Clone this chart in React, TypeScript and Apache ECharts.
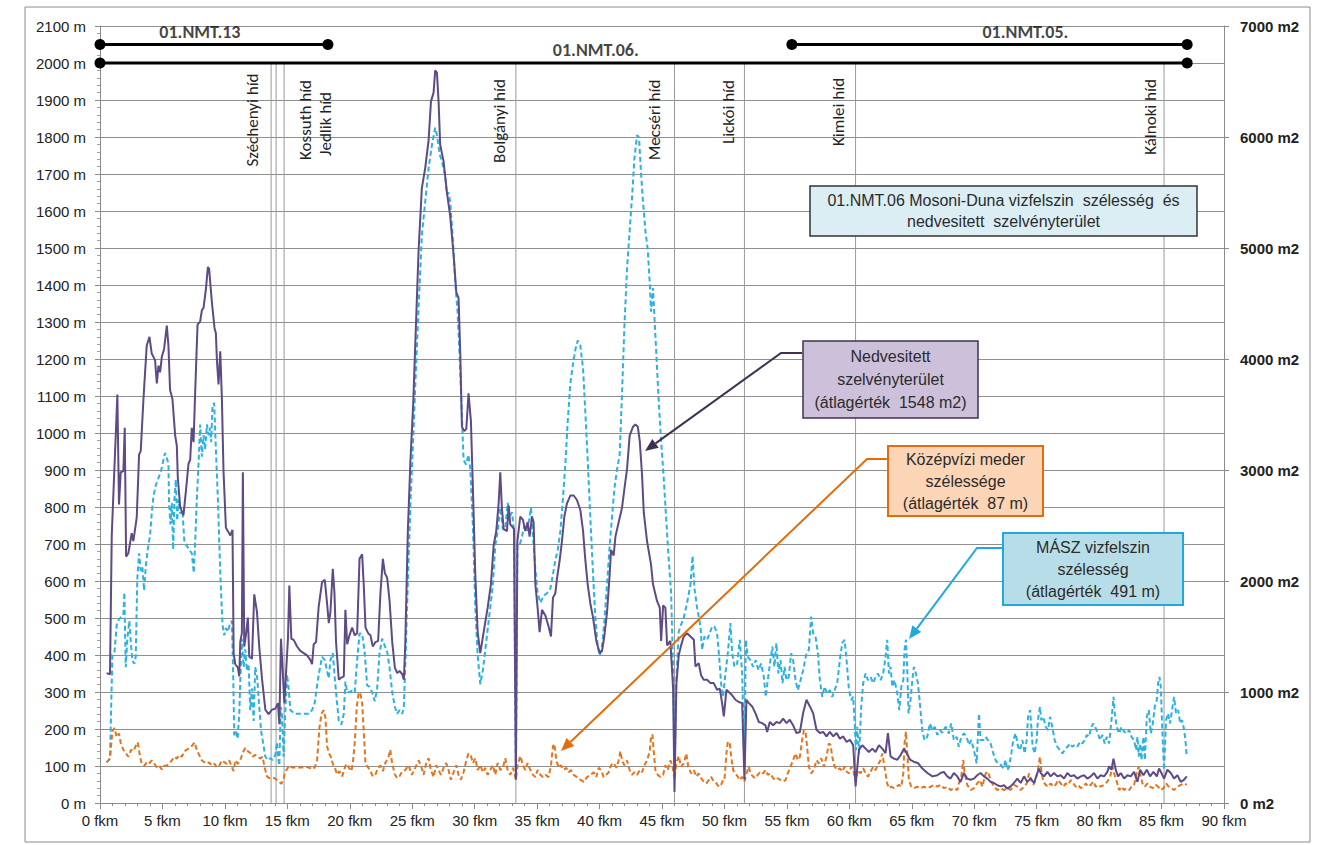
import React, { useEffect, useRef } from "react";
import * as echarts from "echarts";

// MÁSZ vízfelszín szélesség [fkm, m]
const maszWidth: [number, number][] = [
  [0.53,110],[0.8,120],[0.99,400],[1.15,405],[1.34,482],[1.52,497],[1.68,502],[1.87,507],[1.95,569],[2.06,367],[2.19,444],[2.35,492],[2.49,424],[2.59,386],[2.75,376],[2.86,395],[2.99,608],[3.13,675],[3.26,627],[3.4,637],[3.53,574],[3.66,637],[3.82,685],[4.01,724],[4.14,782],[4.28,830],[4.47,859],[4.68,878],[4.89,898],[5.08,927],[5.21,946],[5.35,932],[5.48,917],[5.53,811],[5.64,753],[5.75,811],[5.86,685],[5.96,820],[6.07,874],[6.18,763],[6.28,820],[6.42,782],[6.6,791],[6.76,704],[6.95,695],[7.14,685],[7.35,675],[7.51,622],[7.62,704],[7.75,820],[7.89,917],[8.02,1023],[8.16,936],[8.29,994],[8.42,955],[8.56,1023],[8.69,994],[8.82,1014],[8.9,975],[9.01,1076],[9.14,1081],[9.28,955],[9.44,820],[9.55,704],[9.68,579],[9.81,482],[9.95,453],[10.08,473],[10.24,463],[10.43,487],[10.56,492],[10.67,337],[10.75,183],[10.88,193],[11.02,174],[11.15,241],[11.23,328],[11.36,444],[11.5,367],[11.63,415],[11.76,357],[11.9,376],[12.03,251],[12.17,309],[12.3,222],[12.43,367],[12.59,337],[12.75,260],[12.91,193],[13.1,154],[13.24,125],[13.45,116],[13.64,121],[13.82,116],[14.04,130],[14.17,164],[14.25,125],[14.36,101],[14.47,260],[14.57,241],[14.7,125],[14.84,251],[14.97,347],[15.11,309],[15.24,251],[15.43,246],[15.64,241],[15.91,241],[16.18,241],[16.44,241],[16.71,241],[16.98,251],[17.19,270],[17.38,318],[17.57,357],[17.78,395],[18.0,386],[18.18,357],[18.32,337],[18.45,386],[18.64,405],[18.8,337],[18.98,270],[19.12,222],[19.33,212],[19.52,241],[19.65,328],[19.79,299],[19.97,299],[20.19,304],[20.4,299],[20.59,386],[20.78,458],[20.99,458],[21.2,405],[21.39,318],[21.58,314],[21.79,299],[22.0,275],[22.19,309],[22.38,405],[22.59,444],[22.81,424],[22.99,410],[23.18,367],[23.4,299],[23.61,260],[23.8,241],[23.98,251],[24.2,241],[24.33,260],[24.47,400],[24.65,600],[24.87,820],[25.05,960],[25.27,1150],[25.51,1340],[25.77,1534],[26.04,1625],[26.31,1715],[26.58,1779],[26.84,1825],[26.98,1805],[27.19,1754],[27.38,1734],[27.64,1695],[27.78,1644],[27.91,1650],[28.04,1625],[28.26,1521],[28.45,1405],[28.63,1328],[28.79,1212],[28.98,1044],[29.11,928],[29.3,915],[29.51,941],[29.65,902],[29.86,747],[30.05,528],[30.24,399],[30.45,321],[30.66,360],[30.93,437],[31.2,515],[31.46,592],[31.65,696],[31.84,734],[32.05,798],[32.26,740],[32.45,740],[32.64,811],[32.8,773],[32.99,786],[33.15,734],[33.3,70],[33.42,696],[33.6,696],[33.79,721],[33.97,747],[34.19,734],[34.4,773],[34.51,798],[34.67,721],[34.86,631],[35.04,567],[35.26,541],[35.52,560],[35.79,567],[36.06,579],[36.27,618],[36.46,657],[36.65,683],[36.86,734],[37.07,825],[37.26,915],[37.45,1031],[37.66,1134],[37.87,1186],[38.06,1225],[38.25,1250],[38.46,1237],[38.68,1173],[38.86,1057],[39.05,928],[39.26,773],[39.48,618],[39.66,502],[39.85,425],[40.01,399],[40.2,425],[40.38,489],[40.6,592],[40.81,696],[41.0,773],[41.19,850],[41.4,902],[41.61,941],[41.8,1108],[41.99,1289],[42.2,1444],[42.41,1547],[42.6,1637],[42.79,1741],[43.0,1805],[43.16,1799],[43.32,1702],[43.48,1625],[43.67,1547],[43.86,1495],[44.02,1405],[44.12,1328],[44.28,1392],[44.39,1315],[44.55,1212],[44.74,1083],[44.93,979],[45.14,876],[45.35,760],[45.54,657],[45.73,567],[45.89,360],[46.0,76],[46.15,334],[46.34,463],[46.5,480],[46.74,500],[47.0,540],[47.28,590],[47.45,668],[47.6,580],[47.8,530],[48.08,477],[48.21,414],[48.4,450],[48.61,441],[48.82,459],[49.01,477],[49.2,477],[49.41,459],[49.55,405],[49.73,324],[49.89,287],[50.08,350],[50.27,405],[50.48,486],[50.62,405],[50.8,368],[51.02,377],[51.23,441],[51.42,350],[51.6,98],[51.71,441],[51.87,395],[52.08,386],[52.3,368],[52.51,386],[52.72,359],[52.94,377],[53.15,341],[53.31,287],[53.47,332],[53.68,386],[53.84,423],[54.0,368],[54.16,432],[54.32,350],[54.49,386],[54.65,324],[54.81,368],[54.97,332],[55.15,341],[55.34,405],[55.5,386],[55.69,332],[55.88,305],[56.09,332],[56.3,359],[56.57,405],[56.76,414],[56.94,504],[57.1,459],[57.29,450],[57.48,405],[57.64,332],[57.83,287],[58.01,314],[58.23,296],[58.44,305],[58.63,287],[58.82,305],[59.03,324],[59.24,386],[59.43,432],[59.62,441],[59.78,386],[59.97,305],[60.15,278],[60.31,287],[60.42,224],[60.53,143],[60.63,206],[60.79,134],[60.95,260],[61.11,324],[61.3,350],[61.49,332],[61.7,341],[61.91,324],[62.1,341],[62.29,350],[62.5,332],[62.71,350],[62.9,395],[63.03,441],[63.17,350],[63.3,368],[63.44,314],[63.62,332],[63.84,296],[64.0,251],[64.16,314],[64.32,332],[64.42,414],[64.53,441],[64.64,359],[64.74,242],[64.9,278],[65.04,332],[65.17,368],[65.33,350],[65.49,324],[65.65,269],[65.84,197],[66.02,170],[66.24,179],[66.45,215],[66.64,197],[66.83,206],[67.05,184],[67.26,197],[67.45,190],[67.71,206],[67.97,188],[68.16,215],[68.37,170],[68.59,179],[68.77,152],[68.96,179],[69.17,188],[69.39,179],[69.58,157],[69.76,170],[69.98,143],[70.19,107],[70.38,242],[70.51,170],[70.73,170],[70.91,179],[71.1,170],[71.31,161],[71.53,134],[71.71,116],[71.9,107],[72.12,103],[72.33,94],[72.52,116],[72.65,89],[72.79,98],[72.97,134],[73.13,170],[73.32,188],[73.51,152],[73.67,143],[73.86,170],[74.04,134],[74.2,170],[74.31,233],[74.47,251],[74.57,206],[74.68,152],[74.84,134],[75.0,170],[75.1,224],[75.26,260],[75.37,224],[75.53,233],[75.72,206],[75.91,197],[76.07,233],[76.25,206],[76.44,170],[76.66,152],[76.87,143],[77.06,134],[77.24,143],[77.46,152],[77.67,161],[77.85,152],[78.04,157],[78.26,152],[78.47,166],[78.66,161],[78.85,170],[79.01,184],[79.19,179],[79.38,206],[79.54,215],[79.73,202],[79.91,188],[80.08,170],[80.26,184],[80.45,161],[80.61,179],[80.8,161],[80.99,224],[81.15,287],[81.25,242],[81.41,206],[81.6,188],[81.79,206],[82.0,193],[82.21,188],[82.4,197],[82.59,179],[82.8,170],[82.96,143],[83.07,179],[83.17,125],[83.28,161],[83.39,116],[83.55,179],[83.66,116],[83.82,233],[83.98,251],[84.14,188],[84.3,215],[84.46,260],[84.62,278],[84.72,323],[84.83,341],[84.94,314],[85.07,188],[85.2,89],[85.36,224],[85.52,242],[85.68,215],[85.84,251],[86.0,287],[86.16,242],[86.33,251],[86.49,215],[86.65,224],[86.81,197],[86.91,170],[87.02,125]
];

// Középvízi meder szélessége [fkm, m]
const kozepviziWidth: [number, number][] = [
  [0.53,110],[0.8,120],[0.99,193],[1.15,203],[1.34,178],[1.52,188],[1.68,159],[1.87,144],[2.06,135],[2.27,125],[2.49,144],[2.67,140],[2.86,154],[3.02,164],[3.21,125],[3.34,106],[3.56,101],[3.74,110],[3.93,106],[4.14,115],[4.36,106],[4.55,96],[4.73,101],[4.95,91],[5.16,101],[5.35,101],[5.53,106],[5.75,115],[5.96,125],[6.15,120],[6.34,130],[6.55,125],[6.76,140],[6.95,144],[7.14,149],[7.35,154],[7.57,164],[7.75,144],[7.94,130],[8.16,115],[8.37,110],[8.56,106],[8.74,110],[8.96,101],[9.17,106],[9.36,96],[9.55,101],[9.76,115],[9.97,110],[10.16,106],[10.35,115],[10.51,101],[10.7,86],[10.83,115],[11.04,106],[11.23,115],[11.42,135],[11.63,149],[11.84,140],[12.03,135],[12.22,125],[12.43,130],[12.65,125],[12.83,120],[13.02,125],[13.18,96],[13.37,72],[13.56,67],[13.77,69],[13.98,67],[14.17,62],[14.36,57],[14.52,52],[14.71,67],[14.84,86],[14.97,91],[15.16,101],[15.37,96],[15.64,96],[15.91,96],[16.18,96],[16.44,98],[16.71,96],[16.98,91],[17.19,96],[17.38,115],[17.57,203],[17.73,241],[17.91,251],[18.05,231],[18.18,154],[18.32,135],[18.48,125],[18.64,106],[18.8,96],[18.98,77],[19.17,86],[19.39,72],[19.52,86],[19.71,106],[19.92,96],[20.13,86],[20.24,106],[20.4,164],[20.56,260],[20.72,299],[20.86,294],[20.99,270],[21.12,193],[21.26,106],[21.47,96],[21.66,86],[21.84,72],[22.06,77],[22.27,96],[22.46,101],[22.65,86],[22.86,110],[23.07,120],[23.24,144],[23.4,106],[23.61,77],[23.8,67],[23.98,72],[24.2,86],[24.44,89],[24.71,102],[24.97,76],[25.24,95],[25.51,115],[25.69,102],[25.91,76],[26.12,108],[26.31,121],[26.5,89],[26.71,70],[26.92,102],[27.11,89],[27.3,76],[27.51,95],[27.72,108],[27.91,89],[28.1,63],[28.31,83],[28.53,102],[28.71,76],[28.9,63],[29.11,83],[29.33,115],[29.51,134],[29.7,127],[29.86,108],[30.05,121],[30.24,89],[30.45,102],[30.66,83],[30.85,95],[31.04,76],[31.25,89],[31.46,102],[31.65,76],[31.84,108],[32.05,89],[32.26,95],[32.45,121],[32.64,89],[32.85,76],[33.07,95],[33.3,63],[33.44,102],[33.65,127],[33.87,102],[34.05,89],[34.24,108],[34.46,89],[34.67,76],[34.86,70],[35.04,89],[35.26,76],[35.47,70],[35.68,76],[35.92,70],[36.11,102],[36.27,153],[36.38,160],[36.54,115],[36.73,95],[36.91,102],[37.13,89],[37.34,95],[37.53,83],[37.71,89],[37.93,76],[38.19,70],[38.46,63],[38.73,57],[39.0,70],[39.26,76],[39.53,83],[39.74,70],[39.93,95],[40.12,89],[40.33,70],[40.54,76],[40.73,83],[40.92,102],[41.13,108],[41.35,95],[41.53,115],[41.67,140],[41.8,115],[41.99,102],[42.2,115],[42.41,89],[42.6,76],[42.79,83],[43.0,76],[43.22,89],[43.4,83],[43.59,102],[43.8,115],[44.02,140],[44.12,179],[44.23,185],[44.34,140],[44.47,89],[44.66,76],[44.87,70],[45.09,76],[45.27,102],[45.46,89],[45.67,115],[45.83,102],[46.0,63],[46.15,108],[46.34,127],[46.53,98],[46.74,107],[46.95,134],[47.1,98],[47.33,80],[47.55,89],[47.76,71],[47.94,80],[48.13,67],[48.34,58],[48.55,53],[48.74,62],[48.93,71],[49.14,58],[49.36,53],[49.55,44],[49.73,49],[49.89,62],[50.0,62],[50.16,134],[50.27,166],[50.43,161],[50.54,125],[50.7,89],[50.88,80],[51.07,71],[51.23,62],[51.42,71],[51.6,58],[51.76,80],[51.95,98],[52.08,80],[52.3,71],[52.48,67],[52.67,76],[52.88,85],[53.1,80],[53.28,89],[53.47,76],[53.68,80],[53.9,67],[54.08,62],[54.27,67],[54.49,62],[54.7,58],[54.89,62],[55.07,80],[55.29,98],[55.5,116],[55.69,134],[55.88,116],[56.04,125],[56.22,170],[56.36,197],[56.49,193],[56.62,152],[56.76,98],[56.94,80],[57.15,89],[57.37,116],[57.56,107],[57.75,121],[57.96,98],[58.17,125],[58.36,161],[58.5,157],[58.63,125],[58.82,98],[59.03,89],[59.24,94],[59.43,85],[59.62,98],[59.78,85],[59.97,80],[60.15,98],[60.31,89],[60.5,58],[60.69,89],[60.9,80],[61.11,94],[61.3,80],[61.49,71],[61.7,85],[61.91,98],[62.1,89],[62.29,103],[62.5,116],[62.64,134],[62.77,107],[62.9,80],[63.03,53],[63.17,40],[63.36,44],[63.57,40],[63.78,44],[63.97,49],[64.16,44],[64.32,80],[64.42,161],[64.53,193],[64.64,134],[64.77,62],[64.96,44],[65.17,40],[65.44,44],[65.71,40],[65.97,44],[66.24,40],[66.51,44],[66.77,49],[67.05,44],[67.31,49],[67.58,40],[67.85,44],[68.11,35],[68.38,40],[68.65,35],[68.77,53],[68.96,71],[69.12,116],[69.23,80],[69.44,49],[69.71,35],[69.98,40],[70.24,53],[70.46,62],[70.65,44],[70.91,80],[71.1,85],[71.31,62],[71.58,44],[71.85,35],[72.12,40],[72.38,35],[72.65,40],[72.92,35],[73.18,49],[73.45,44],[73.72,35],[73.99,44],[74.2,53],[74.39,80],[74.52,67],[74.73,49],[74.92,62],[75.1,89],[75.26,125],[75.37,89],[75.53,58],[75.72,49],[75.91,44],[76.12,53],[76.33,44],[76.52,49],[76.71,62],[76.92,53],[77.14,44],[77.32,53],[77.51,49],[77.73,62],[77.94,53],[78.12,44],[78.31,49],[78.53,40],[78.74,44],[78.93,53],[79.11,44],[79.33,49],[79.54,58],[79.73,44],[79.91,49],[80.13,44],[80.4,49],[80.66,58],[80.88,71],[81.07,98],[81.2,80],[81.41,58],[81.6,35],[81.79,44],[82.0,35],[82.21,40],[82.4,35],[82.59,44],[82.8,49],[83.07,89],[83.17,98],[83.28,80],[83.47,53],[83.66,44],[83.87,53],[84.08,44],[84.3,40],[84.54,49],[84.72,44],[84.94,35],[85.15,40],[85.36,53],[85.57,44],[85.79,40],[86.0,35],[86.27,44],[86.54,49],[86.81,53],[87.02,49]
];

// Nedvesített szelvényterület [fkm, m2]
const wettedArea: [number, number][] = [
  [0.53,1170],[0.8,1160],[0.94,2410],[1.39,3680],[1.52,2690],[1.66,2980],[1.87,2990],[1.98,3380],[2.09,2220],[2.27,2250],[2.54,2430],[2.67,2360],[2.94,2570],[3.13,3140],[3.26,3170],[3.48,3640],[3.74,4120],[3.96,4200],[4.14,4050],[4.41,3990],[4.55,3780],[4.68,3940],[4.81,3880],[4.95,4020],[5.13,4090],[5.35,4300],[5.48,4120],[5.61,3720],[5.8,3640],[6.02,3310],[6.15,3220],[6.23,2930],[6.42,2670],[6.68,2590],[6.87,2800],[7.09,3060],[7.22,3090],[7.35,3380],[7.49,3250],[7.62,3700],[7.81,4310],[8.02,4340],[8.16,4440],[8.29,4460],[8.48,4630],[8.64,4830],[8.74,4810],[8.96,4510],[9.17,4280],[9.28,4230],[9.36,3990],[9.49,3770],[9.63,4070],[9.76,3640],[9.89,2990],[10.08,2480],[10.29,2440],[10.43,2410],[10.61,2460],[10.7,1350],[10.83,1250],[11.04,1220],[11.15,1140],[11.23,1450],[11.36,1530],[11.44,2980],[11.55,1410],[11.68,1510],[11.84,1670],[11.95,1320],[12.17,1300],[12.35,1880],[12.57,1720],[12.75,1410],[12.97,1120],[13.24,840],[13.5,800],[13.77,840],[14.04,850],[14.25,900],[14.36,710],[14.49,1480],[14.63,1190],[14.76,900],[14.89,1160],[15.05,1480],[15.16,1960],[15.32,1480],[15.51,1470],[15.78,1410],[16.04,1370],[16.31,1350],[16.58,1330],[16.84,1290],[16.98,1250],[17.11,1430],[17.3,1450],[17.51,1770],[17.78,1990],[18.0,2010],[18.18,1800],[18.32,1620],[18.45,1720],[18.64,2110],[18.77,1900],[18.9,1450],[19.12,1110],[19.33,1130],[19.52,1140],[19.65,1740],[19.79,1430],[19.97,1510],[20.19,1580],[20.4,1510],[20.59,1530],[20.78,2200],[20.99,2240],[21.12,1960],[21.26,1580],[21.47,1530],[21.66,1510],[21.84,1410],[22.06,1450],[22.27,1460],[22.46,1900],[22.65,2200],[22.81,2070],[22.99,2030],[23.18,1830],[23.4,1450],[23.61,1220],[23.8,1170],[23.98,1190],[24.2,1160],[24.33,1110],[24.44,1420],[24.65,2450],[24.85,3070],[25.08,3600],[25.24,4120],[25.51,4980],[25.77,5540],[26.04,5720],[26.31,5970],[26.5,6320],[26.71,6400],[26.84,6600],[26.98,6580],[27.11,6320],[27.24,5930],[27.51,5780],[27.78,5500],[28.04,5290],[28.31,4940],[28.53,4600],[28.71,4550],[28.85,4040],[28.98,3390],[29.17,3350],[29.33,3370],[29.51,3690],[29.7,3440],[29.86,2830],[30.05,2060],[30.24,1540],[30.45,1350],[30.72,1540],[31.04,1760],[31.3,1970],[31.52,2320],[31.73,2450],[31.92,2700],[32.05,2980],[32.18,2660],[32.32,2470],[32.59,2450],[32.72,2680],[32.85,2510],[33.15,2470],[33.3,210],[33.42,2360],[33.65,2580],[33.87,2550],[34.05,2450],[34.24,2530],[34.4,2400],[34.59,2580],[34.72,2530],[34.86,1970],[35.04,1760],[35.2,1540],[35.39,1740],[35.66,1690],[35.92,1590],[36.11,1500],[36.27,1850],[36.46,1890],[36.59,2020],[36.81,2190],[36.99,2360],[37.18,2580],[37.39,2700],[37.66,2770],[37.93,2770],[38.19,2730],[38.46,2640],[38.68,2450],[38.86,2190],[39.05,1970],[39.26,1800],[39.48,1670],[39.74,1460],[40.01,1350],[40.2,1370],[40.38,1500],[40.6,1720],[40.81,2060],[40.92,2280],[41.13,2230],[41.27,2400],[41.53,2530],[41.8,2660],[41.99,2830],[42.2,3010],[42.41,3310],[42.68,3390],[42.87,3410],[43.06,3390],[43.22,3260],[43.4,2960],[43.54,2620],[43.8,2360],[44.12,2150],[44.28,1970],[44.6,1820],[44.82,1760],[44.93,1460],[45.09,1780],[45.27,1760],[45.41,1420],[45.67,1460],[45.89,1030],[46.0,100],[46.15,1070],[46.34,1330],[46.53,1420],[46.74,1500],[47.0,1530],[47.28,1500],[47.55,1470],[47.68,1230],[47.94,1260],[48.13,1150],[48.34,1110],[48.61,1110],[48.88,1080],[49.14,1080],[49.41,1020],[49.63,1030],[49.81,900],[49.95,780],[50.16,1020],[50.35,1000],[50.62,970],[50.88,930],[51.15,910],[51.42,900],[51.6,210],[51.76,930],[51.95,900],[52.22,870],[52.48,810],[52.75,730],[53.02,720],[53.28,700],[53.42,640],[53.63,730],[53.9,700],[54.16,730],[54.43,720],[54.7,760],[54.97,720],[55.23,750],[55.5,700],[55.77,630],[56.04,640],[56.3,810],[56.57,930],[56.84,870],[57.1,810],[57.37,660],[57.64,630],[57.91,640],[58.17,600],[58.44,640],[58.71,600],[58.98,630],[59.24,580],[59.51,600],[59.78,550],[60.05,570],[60.31,520],[60.5,150],[60.77,480],[61.04,520],[61.3,490],[61.57,460],[61.84,490],[62.1,460],[62.37,520],[62.64,490],[62.9,450],[63.09,630],[63.3,420],[63.57,400],[63.84,390],[64.1,430],[64.37,490],[64.59,450],[64.86,390],[65.18,370],[65.5,360],[65.85,310],[66.25,270],[66.65,240],[67.05,250],[67.3,270],[67.57,280],[67.84,240],[68.1,220],[68.37,270],[68.64,240],[68.91,190],[69.17,270],[69.44,220],[69.71,210],[69.98,220],[70.24,250],[70.51,270],[70.78,240],[71.05,220],[71.31,190],[71.58,180],[71.85,160],[72.12,150],[72.38,160],[72.65,130],[72.92,150],[73.18,180],[73.45,220],[73.72,180],[73.99,240],[74.25,190],[74.52,220],[74.79,180],[75.05,270],[75.19,310],[75.32,270],[75.59,240],[75.86,280],[76.12,240],[76.39,270],[76.66,240],[76.92,250],[77.19,220],[77.46,270],[77.73,240],[77.99,250],[78.26,220],[78.53,240],[78.79,250],[79.06,220],[79.33,240],[79.59,270],[79.86,220],[80.13,250],[80.4,240],[80.66,280],[80.8,330],[80.99,300],[81.15,400],[81.33,300],[81.52,240],[81.73,270],[82.0,220],[82.27,250],[82.53,240],[82.8,280],[83.07,190],[83.28,300],[83.55,250],[83.82,300],[84.08,240],[84.35,280],[84.62,240],[84.8,310],[84.99,270],[85.2,220],[85.47,300],[85.74,270],[86.0,220],[86.27,250],[86.54,190],[86.81,210],[87.02,240]
];

// Hidak (fkm)
const bridges = [
  { name: "Széchenyi híd", km: 13.7 },
  { name: "Kossuth híd", km: 14.1 },
  { name: "Jedlik híd", km: 14.74 },
  { name: "Bolgányi híd", km: 33.3 },
  { name: "Mecséri híd", km: 46.0 },
  { name: "Lickói híd", km: 51.6 },
  { name: "Kimlei híd", km: 60.5 },
  { name: "Kálnoki híd", km: 85.2 },
];

// Víztest-szakaszok: kezdő és záró fkm, szint (m)
const sections = [
  { name: "01.NMT.13", from: 0, to: 18.25, level: 2050 },
  { name: "01.NMT.06.", from: 0, to: 87.05, level: 2000 },
  { name: "01.NMT.05.", from: 55.4, to: 87.05, level: 2050 },
];

const xUnit = " fkm";
const leftUnit = " m";
const rightUnit = " m2";

const titleLines = ["01.NMT.06 Mosoni-Duna vizfelszin  szélesség  és", "nedvesitett  szelvényterület"];
const areaLines = ["Nedvesitett", "szelvényterület", "(átlagérték  1548 m2)"];
const channelLines = ["Középvízi meder", "szélessége", "(átlagérték  87 m)"];
const maszLines = ["MÁSZ vizfelszin", "szélesség", "(átlagérték  491 m)"];

// layout of text placed beside the data
const sectionLabelAnchor: Record<string, [number, number]> = {
  "01.NMT.13": [8.0, 2084],
  "01.NMT.06.": [39.7, 2035],
  "01.NMT.05.": [74.1, 2084],
};
const bridgeLabelLayout: Record<string, { dx: number; cy: number }> = {
  "Széchenyi híd": { dx: -19, cy: 120 },
  "Kossuth híd": { dx: 29, cy: 120 },
  "Jedlik híd": { dx: 41, cy: 124 },
  "Bolgányi híd": { dx: -16, cy: 121 },
  "Mecséri híd": { dx: -20, cy: 120 },
  "Lickói híd": { dx: -16, cy: 112 },
  "Kimlei híd": { dx: -17, cy: 112 },
  "Kálnoki híd": { dx: -14, cy: 117 },
};

const NARROW = "'Liberation Sans Narrow', 'Arial Narrow', 'Liberation Sans', Arial, sans-serif";
const CALIBRI = "Carlito, Calibri, Lato, sans-serif";

const C_AREA = "#5d4a86";
const C_MASZ = "#2cb1e1";
const C_CHANNEL = "#e2751f";

function arrow(pts: number[][], color: string, width = 2) {
  const n = pts.length;
  const [x2, y2] = pts[n - 1];
  const [x1, y1] = pts[n - 2];
  const ang = Math.atan2(y2 - y1, x2 - x1);
  const L = 13, W = 5.5;
  const bx = x2 - L * Math.cos(ang);
  const by = y2 - L * Math.sin(ang);
  const head = [
    [x2, y2],
    [bx - W * Math.sin(ang), by + W * Math.cos(ang)],
    [bx + W * Math.sin(ang), by - W * Math.cos(ang)],
  ];
  return [
    { type: "polyline", z: 20, shape: { points: [...pts.slice(0, -1), [bx, by]] }, style: { stroke: color, lineWidth: width, fill: null } },
    { type: "polygon", z: 20, shape: { points: head }, style: { fill: color } },
  ];
}

function box(x: number, y: number, w: number, h: number, fill: string, stroke: string, lw: number, lines: string[], lh: number) {
  return [
    { type: "rect", z: 20, shape: { x, y, width: w, height: h }, style: { fill, stroke, lineWidth: lw } },
    {
      type: "text", z: 21, x: x + w / 2, y: y + h / 2,
      style: { text: lines.join("\n"), align: "center", verticalAlign: "middle", font: `16px ${NARROW}`, fill: "#2b2b2b", lineHeight: lh },
    },
  ];
}

export default function App() {
  const ref = useRef<HTMLDivElement>(null);

  useEffect(() => {
    if (!ref.current) return;
    const chart = echarts.init(ref.current, null, { renderer: "svg" });

    const axisGray = "#8a8a8a";
    const labelBase = { color: "#222", fontFamily: NARROW, fontSize: 15 };

    chart.setOption({
      animation: false,
      backgroundColor: "#ffffff",
      grid: { left: 100, right: 105, top: 26, bottom: 42 },
      xAxis: {
        type: "value", min: 0, max: 90, interval: 5,
        axisLine: { show: true, onZero: false, lineStyle: { color: axisGray, width: 1 } },
        axisTick: { show: true, length: 6, lineStyle: { color: axisGray } },
        minorTick: { show: true, splitNumber: 5, length: 3, lineStyle: { color: axisGray } },
        splitLine: { show: false },
        axisLabel: { ...labelBase, formatter: (v: number) => `${v}${xUnit}`, margin: 10 },
      },
      yAxis: [
        {
          type: "value", min: 0, max: 2100, interval: 100, position: "left",
          axisLine: { show: true, lineStyle: { color: axisGray } },
          axisTick: { show: true, length: 5, lineStyle: { color: axisGray } },
          minorTick: { show: true, splitNumber: 5, length: 3, lineStyle: { color: "#a0a0a0" } },
          splitLine: { show: true, lineStyle: { color: "#8f8f8f", width: 1 } },
          axisLabel: { ...labelBase, formatter: (v: number) => `${v}${leftUnit}`, margin: 14 },
        },
        {
          type: "value", min: 0, max: 7000, interval: 1000, position: "right",
          axisLine: { show: true, lineStyle: { color: axisGray } },
          axisTick: { show: true, length: 5, lineStyle: { color: axisGray } },
          splitLine: { show: false },
          axisLabel: { ...labelBase, formatter: (v: number) => `${v}${rightUnit}`, fontWeight: "bold", margin: 16 },
        },
      ],
      series: [
        {
          type: "custom", name: "hidak", silent: true, z: 1,
          xAxisIndex: 0, yAxisIndex: 0,
          data: bridges.map((b) => [b.km, 0]),
          encode: { x: 0, y: 1 },
          renderItem: (_p: any, api: any) => {
            const top = api.coord([api.value(0), 2000]);
            const bot = api.coord([api.value(0), 0]);
            return {
              type: "line",
              shape: { x1: top[0], y1: top[1], x2: bot[0], y2: bot[1] },
              style: { stroke: "#9a9a9a", lineWidth: 1 },
            };
          },
        },
        {
          name: "MÁSZ vizfelszin szélesség", type: "line", yAxisIndex: 0, data: maszWidth,
          symbol: "none", z: 3, lineStyle: { color: C_MASZ, width: 2, type: [5, 3] },
        },
        {
          name: "Középvízi meder szélessége", type: "line", yAxisIndex: 0, data: kozepviziWidth,
          symbol: "none", z: 4, lineStyle: { color: C_CHANNEL, width: 2, type: [5, 3] },
        },
        {
          name: "Nedvesitett szelvényterület", type: "line", yAxisIndex: 1, data: wettedArea,
          symbol: "none", z: 5, lineStyle: { color: C_AREA, width: 2 },
        },
        ...sections.map((s) => ({
          name: s.name, type: "line", yAxisIndex: 0,
          data: [[s.from, s.level], [s.to, s.level]],
          symbol: "circle", symbolSize: 11, showSymbol: true, z: 6,
          itemStyle: { color: "#000" }, lineStyle: { color: "#000", width: 3 },
        })),
        {
          type: "scatter", name: "szakaszok", yAxisIndex: 0, z: 7, silent: true,
          symbolSize: 1, itemStyle: { color: "rgba(0,0,0,0)" },
          data: sections.map((s) => ({ name: s.name, value: sectionLabelAnchor[s.name] })),
          label: {
            show: true, position: "inside", formatter: "{b}",
            fontFamily: CALIBRI, fontWeight: "bold", fontSize: 18, color: "#111",
          },
        },
      ],
    });

    const bridgeTexts = bridges.map((b) => {
      const [px] = chart.convertToPixel({ gridIndex: 0 }, [b.km, 0]) as number[];
      const lay = bridgeLabelLayout[b.name];
      return {
        type: "text", z: 15, x: px + lay.dx, y: lay.cy, rotation: Math.PI / 2,
        style: { text: b.name, align: "center", verticalAlign: "middle", font: `17px ${CALIBRI}`, fill: "#222" },
      };
    });

    chart.setOption({
      graphic: [
        { type: "rect", z: 0, silent: true, shape: { x: 25, y: 7, width: 1285, height: 835 }, style: { fill: null, stroke: "#8c8c8c", lineWidth: 1 } },
        ...bridgeTexts,
        ...box(810, 186, 387, 50, "#dbeef4", "#333333", 1.5, titleLines, 21),
        ...arrow([[802, 353], [781, 353], [645, 451]], "#403152", 2),
        ...box(803, 341, 175, 77, "#ccc0da", "#3f3151", 1.5, areaLines, 23),
        ...arrow([[888, 459], [867, 459], [561, 751]], "#e46c0a", 2),
        ...box(888, 446, 155, 70, "#fbd5b5", "#e46c0a", 2, channelLines, 22),
        ...arrow([[1003, 548], [977, 548], [909, 639]], "#1fa9dc", 2),
        ...box(1003, 533, 180, 72, "#b7dee8", "#1fa9dc", 2, maszLines, 22),
      ],
    });

    return () => chart.dispose();
  }, []);

  return <div ref={ref} style={{ position: "absolute", left: 0, top: 0, width: 1329, height: 845 }} />;
}
